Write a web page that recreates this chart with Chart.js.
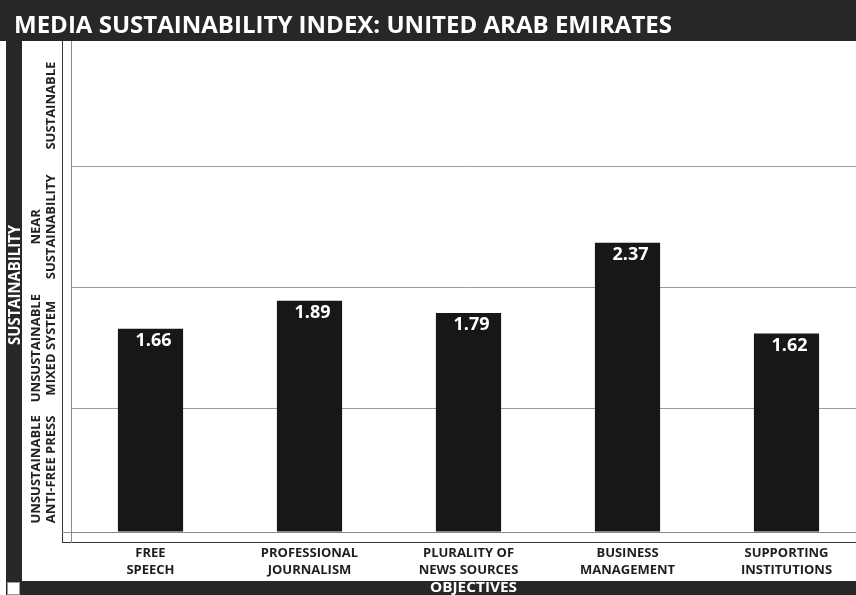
<!DOCTYPE html>
<html>
<head>
<meta charset="utf-8">
<script src="https://cdn.jsdelivr.net/npm/chart.js@4/dist/chart.umd.min.js"></script>
<style>
  html, body { margin: 0; padding: 0; background: #fff; overflow: hidden; }
  #wrap { width: 856px; height: 595px; overflow: hidden; position: relative; }
  #chart { position: absolute; left: 0; top: 0; }
</style>
</head>
<body>
<div id="wrap"><canvas id="chart" width="866" height="595"></canvas></div>
<script>
// data
var titleText = 'MEDIA SUSTAINABILITY INDEX: UNITED ARAB EMIRATES';
var objectives = [
  ['FREE', 'SPEECH'],
  ['PROFESSIONAL', 'JOURNALISM'],
  ['PLURALITY OF', 'NEWS SOURCES'],
  ['BUSINESS', 'MANAGEMENT'],
  ['SUPPORTING', 'INSTITUTIONS']
];
var scores = [1.66, 1.89, 1.79, 2.37, 1.62];
// bands between the grid lines, bottom to top
var bandLabels = [
  ['UNSUSTAINABLE', 'ANTI-FREE PRESS'],
  ['UNSUSTAINABLE', 'MIXED SYSTEM'],
  ['NEAR', 'SUSTAINABILITY'],
  ['SUSTAINABLE']
];
var yAxisTitle = 'SUSTAINABILITY';
var xAxisTitle = 'OBJECTIVES';

var DARK = '#272727';
var BAR = '#171717';
var FONT = '"Open Sans", "DejaVu Sans", sans-serif';

// fit text to a given width by scaling it horizontally
function fitText(c, txt, x, y, w) {
  var m = c.measureText(txt).width;
  c.save();
  c.translate(x, y);
  c.scale(w / m, 1);
  c.fillText(txt, 0, 0);
  c.restore();
}

var decor = {
  id: 'decor',
  afterDatasetsDraw: function (chart) {
    var c = chart.ctx;
    var meta = chart.getDatasetMeta(0);

    // values in the bars
    c.save();
    c.fillStyle = '#fff';
    c.font = 'bold 18px ' + FONT;
    c.textAlign = 'center';
    c.textBaseline = 'middle';
    meta.data.forEach(function (bar, i) {
      c.fillText(scores[i].toFixed(2), bar.x + 3, bar.y + 12);
    });
    c.restore();
  },
  afterDraw: function (chart) {
    var c = chart.ctx;
    var y = chart.scales.y;
    c.save();

    // frame lines
    c.lineWidth = 1;
    c.strokeStyle = '#333';
    c.beginPath();
    c.moveTo(62.5, 40); c.lineTo(62.5, 543);
    c.moveTo(62, 542.5); c.lineTo(866, 542.5);
    c.stroke();
    c.strokeStyle = '#8a8a8a';
    c.beginPath();
    c.moveTo(71.5, 40); c.lineTo(71.5, 543);
    c.moveTo(62, 532.5); c.lineTo(866, 532.5);
    c.stroke();

    // title bar
    c.fillStyle = DARK;
    c.fillRect(0, 0, 856, 41);
    c.fillStyle = '#fff';
    c.font = 'bold 24px ' + FONT;
    c.textBaseline = 'alphabetic';
    c.textAlign = 'left';
    fitText(c, titleText, 14, 33, 658);

    // left bar with axis title
    c.fillStyle = DARK;
    c.fillRect(6, 41, 16, 540);
    c.save();
    c.translate(20, 285);
    c.rotate(-Math.PI / 2);
    c.fillStyle = '#fff';
    c.font = 'bold 16px ' + FONT;
    c.textAlign = 'left';
    var w = c.measureText(yAxisTitle).width;
    c.scale(120 / w, 1);
    c.fillText(yAxisTitle, -w / 2, 0);
    c.restore();

    // bottom bar with axis title
    c.fillStyle = DARK;
    c.fillRect(20, 581, 836, 14);
    c.fillRect(6, 581, 16, 14);
    c.fillStyle = '#fff';
    c.fillRect(7, 582, 13, 13);
    c.strokeStyle = '#999';
    c.strokeRect(7.5, 582.5, 12, 12);
    c.font = 'bold 14px ' + FONT;
    c.textAlign = 'left';
    fitText(c, xAxisTitle, 430, 592, 87);

    // band labels on the left
    c.fillStyle = '#222';
    c.font = 'bold 13px ' + FONT;
    bandLabels.forEach(function (lines, i) {
      var cy = y.getPixelForValue(i + 0.5);
      var n = lines.length;
      lines.forEach(function (txt, k) {
        var bx = 55 - (n - 1 - k) * 15;
        c.save();
        c.translate(bx, cy);
        c.rotate(-Math.PI / 2);
        c.textAlign = 'center';
        c.fillText(txt, 0, 0);
        c.restore();
      });
    });

    c.restore();
  }
};

new Chart(document.getElementById('chart').getContext('2d'), {
  type: 'bar',
  data: {
    labels: objectives,
    datasets: [{
      data: scores,
      backgroundColor: BAR,
      borderWidth: 0,
      base: -0.0165,
      barPercentage: 0.41,
      categoryPercentage: 1
    }]
  },
  options: {
    responsive: false,
    animation: false,
    layout: { padding: { top: 45, left: 0, right: 0, bottom: 0 } },
    plugins: {
      legend: { display: false },
      tooltip: { enabled: false },
      title: { display: false }
    },
    scales: {
      x: {
        grid: { display: false, drawTicks: false },
        border: { display: false },
        ticks: {
          color: '#1e1e1e',
          font: { family: FONT, size: 13, weight: 'bold', lineHeight: 1.3 },
          padding: 13,
          maxRotation: 0,
          autoSkip: false
        },
        afterFit: function (s) { s.height = 63; }
      },
      y: {
        min: -0.0165,
        max: 4,
        ticks: { display: false, stepSize: 1 },
        border: { display: false },
        grid: {
          drawTicks: false,
          lineWidth: 1,
          color: function (ctx) {
            var v = ctx.tick && ctx.tick.value;
            return (v === 1 || v === 2 || v === 3) ? '#9c9c9c' : 'rgba(0,0,0,0)';
          }
        },
        afterFit: function (s) { s.width = 71; }
      }
    }
  },
  plugins: [decor]
});
</script>
</body>
</html>
